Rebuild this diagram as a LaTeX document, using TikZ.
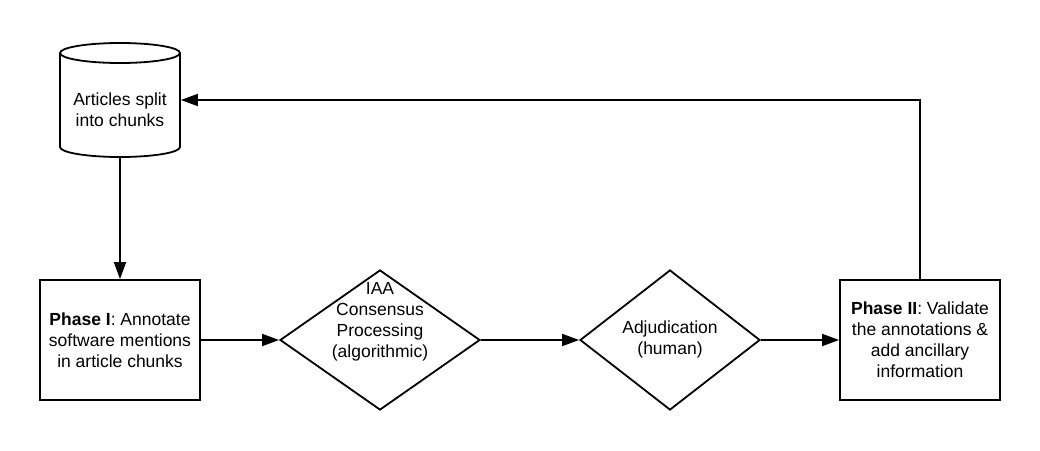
\documentclass[tikz,border=0pt]{standalone}
\usepackage{fontspec}
\setmainfont{Liberation Sans}
\usetikzlibrary{arrows.meta,shapes.geometric}
\begin{document}
\begin{tikzpicture}[x=1pt,y=-1pt,
  line width=1.8pt,
  txt/.style={font=\fontsize{17.5}{21}\selectfont, align=center, inner sep=0pt},
  box/.style={draw, minimum width=160pt, minimum height=120pt, inner sep=0pt, txt},
  dia/.style={draw, diamond, inner sep=0pt, minimum height=140pt},
  arr/.style={-{Triangle[length=17pt,width=12pt]}},
]
\useasboundingbox[fill=white] (0,0) rectangle (1040,450);
% cylinder
\node[minimum width=120pt, minimum height=114pt, inner sep=0pt] (cyl) at (120,100) {};
\draw (60,53) -- (60,147) arc[start angle=180, end angle=360, x radius=60pt, y radius=10pt] -- (180,53);
\draw (120,53) ellipse [x radius=60pt, y radius=10pt];
\node[txt] (cyltxt) at (120,110) {Articles split\\into chunks};
% boxes
\node[box] (p1) at (120,340) {\textbf{Phase I}: Annotate\\software mentions\\in article chunks};
\node[dia, minimum width=200pt] (d1) at (380,340) {};
\node[txt] (d1txt) at (380,322) {IAA\\Consensus\\Processing\\(algorithmic)};
\node[dia, minimum width=180pt] (d2) at (670,340) {};
\node[txt] (d2txt) at (670,339) {Adjudication\\(human)};
\node[box] (p2) at (920,340) {\textbf{Phase II}: Validate\\the annotations \&\\add ancillary\\information};
% connectors
\draw[arr] (cyl.south) -- (p1.north);
\draw[arr] (p1.east) -- (d1.west);
\draw[arr] (d1.east) -- (d2.west);
\draw[arr] (d2.east) -- (p2.west);
\draw[arr] (p2.north) |- (cyl.east);
\end{tikzpicture}
\end{document}
